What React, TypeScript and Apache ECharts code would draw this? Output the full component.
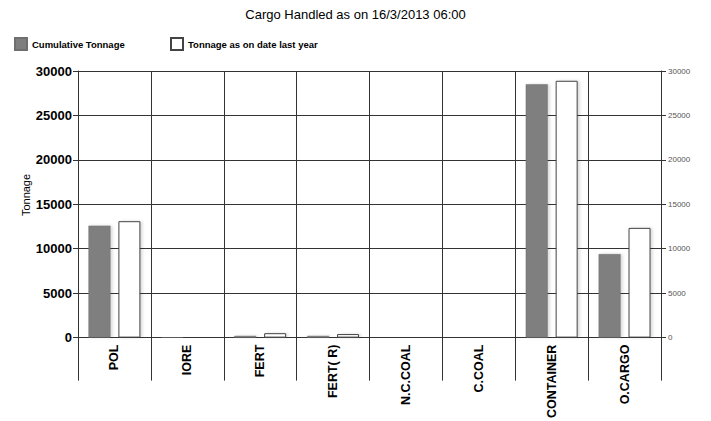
import React, { useEffect, useRef } from "react";
import * as echarts from "echarts";

const categories = ["POL", "IORE", "FERT", "FERT( R)", "N.C.COAL", "C.COAL", "CONTAINER", "O.CARGO"];
const cumulativeTonnage = [12600, 60, 200, 200, 0, 0, 28500, 9400];
const lastYearTonnage = [13100, 0, 500, 400, 0, 0, 28900, 12350];
const yTicks = { min: 0, max: 30000, interval: 5000 };

const FONT = "'Liberation Sans', Arial, sans-serif";
const LINE = "#333333";

export default function App() {
  const ref = useRef<HTMLDivElement>(null);
  useEffect(() => {
    if (!ref.current) return;
    const chart = echarts.init(ref.current, undefined, { renderer: "svg" });
    const plain = (v: number) => String(v);
    chart.setOption({
      animation: false,
      backgroundColor: "#ffffff",
      textStyle: { fontFamily: FONT },
      title: {
        text: "Cargo Handled as on 16/3/2013 06:00",
        left: "center",
        top: 3,
        textStyle: { fontFamily: FONT, fontSize: 13, fontWeight: "normal", color: "#000" },
      },
      legend: [
        {
          left: 14,
          top: 37,
          padding: 0,
          icon: "rect",
          itemWidth: 12,
          itemHeight: 12,
          data: ["Cumulative Tonnage"],
          textStyle: { fontFamily: FONT, fontSize: 9.5, fontWeight: "bold", color: "#000" },
        },
        {
          left: 170,
          top: 37,
          padding: 0,
          icon: "rect",
          itemWidth: 12,
          itemHeight: 12,
          data: ["Tonnage as on date last year"],
          textStyle: { fontFamily: FONT, fontSize: 9.5, fontWeight: "bold", color: "#000" },
        },
      ],
      graphic: [
        {
          type: "text",
          x: 26,
          y: 195,
          rotation: Math.PI / 2,
          style: {
            text: "Tonnage",
            fontFamily: FONT,
            fontSize: 11,
            fill: "#000",
            textAlign: "center",
            textVerticalAlign: "middle",
          },
        },
      ],
      grid: { left: 78, right: 50, top: 71, bottom: 79, containLabel: false },
      xAxis: {
        type: "category",
        data: categories,
        boundaryGap: true,
        axisLine: { show: true, lineStyle: { color: LINE, width: 1 } },
        axisTick: { show: true, length: 43, lineStyle: { color: LINE, width: 1 } },
        splitLine: { show: true, lineStyle: { color: LINE, width: 1 } },
        axisLabel: {
          rotate: 90,
          margin: 7,
          fontFamily: FONT,
          fontSize: 12.5,
          fontWeight: "bold",
          color: "#000",
          interval: 0,
        },
      },
      yAxis: [
        {
          type: "value",
          position: "left",
          min: yTicks.min,
          max: yTicks.max,
          interval: yTicks.interval,
          axisLine: { show: true, lineStyle: { color: LINE, width: 1 } },
          axisTick: { show: true, length: 5, lineStyle: { color: LINE } },
          splitLine: { show: true, lineStyle: { color: LINE, width: 1 } },
          axisLabel: {
            margin: 6,
            formatter: plain,
            fontFamily: FONT,
            fontSize: 13,
            fontWeight: "bold",
            color: "#000",
          },
        },
        {
          type: "value",
          position: "right",
          min: yTicks.min,
          max: yTicks.max,
          interval: yTicks.interval,
          axisLine: { show: true, lineStyle: { color: LINE, width: 1 } },
          axisTick: { show: true, length: 5, lineStyle: { color: LINE } },
          splitLine: { show: false },
          axisLabel: {
            margin: 7,
            formatter: plain,
            fontFamily: FONT,
            fontSize: 8,
            color: "#555",
          },
        },
      ],
      series: [
        {
          name: "Cumulative Tonnage",
          type: "bar",
          data: cumulativeTonnage,
          barWidth: 22,
          barGap: "36%",
          itemStyle: {
            color: "#7f7f7f",
            borderColor: "#6f6f6f",
            borderWidth: 0.5,
            shadowColor: "rgba(0,0,0,0.15)",
            shadowBlur: 3,
            shadowOffsetX: 2,
          },
        },
        {
          name: "Tonnage as on date last year",
          type: "bar",
          data: lastYearTonnage,
          barWidth: 22,
          itemStyle: {
            color: "#ffffff",
            borderColor: "#444444",
            borderWidth: 1,
            shadowColor: "rgba(0,0,0,0.15)",
            shadowBlur: 3,
            shadowOffsetX: 2,
          },
        },
      ],
    });
    return () => chart.dispose();
  }, []);
  return (
    <div
      ref={ref}
      style={{ position: "absolute", left: 0, top: 0, width: 711, height: 421 }}
    />
  );
}
